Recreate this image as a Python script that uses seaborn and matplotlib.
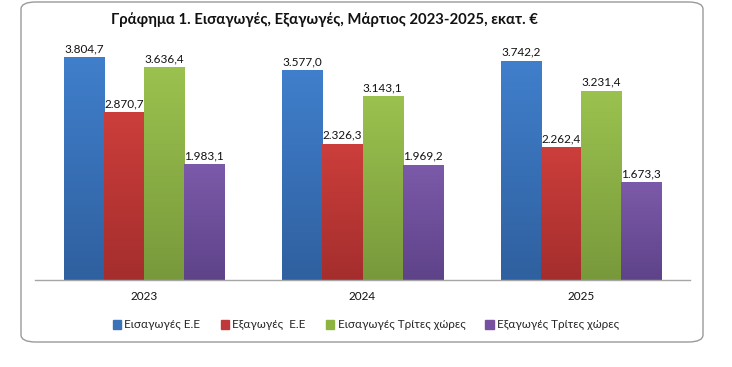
import matplotlib
matplotlib.use("Agg")
import matplotlib.pyplot as plt
import seaborn as sns
import pandas as pd
import numpy as np
from matplotlib.patches import FancyBboxPatch
from matplotlib.colors import LinearSegmentedColormap

years = ["2023", "2024", "2025"]
series = ["Εισαγωγές Ε.Ε", "Εξαγωγές  Ε.Ε", "Εισαγωγές Τρίτες χώρες", "Εξαγωγές Τρίτες χώρες"]
imports_eu = [3804.7, 3577.0, 3742.2]
exports_eu = [2870.7, 2326.3, 2262.4]
imports_third = [3636.4, 3143.1, 3231.4]
exports_third = [1983.1, 1969.2, 1673.3]
title = "Γράφημα 1. Εισαγωγές, Εξαγωγές, Μάρτιος 2023-2025, εκατ. €"

top_colors = ["#407FCC", "#CC3E3B", "#9BC24F", "#7C5AAA"]
bot_colors = ["#2F609F", "#A42E2D", "#78993B", "#5E4389"]
mid_colors = ["#3A72B8", "#C0393A", "#8DB440", "#7850A0"]

rows = []
for s, vals in zip(series, [imports_eu, exports_eu, imports_third, exports_third]):
    for y, v in zip(years, vals):
        rows.append({"year": y, "series": s, "value": v})
df = pd.DataFrame(rows)

sns.set_theme(style="white")
plt.rcParams['font.family'] = ['Lato', 'DejaVu Sans']

fig = plt.figure(figsize=(7.32, 3.67), dpi=100)
W, H = 732, 367
ax = fig.add_axes([35 / W, 1 - 280 / H, (690 - 35) / W, (280 - 45.5) / H])

sns.barplot(data=df, x="year", y="value", hue="series", hue_order=series,
            palette=mid_colors, ax=ax, width=0.733, saturation=1,
            edgecolor="none", linewidth=0, legend=False)
ax.set_ylim(0, 4000)
ax.set_xlim(-0.5, 2.5)

def fmt(v):
    s = f"{v:,.1f}"
    return s.replace(",", "X").replace(".", ",").replace("X", ".")

for i, cont in enumerate(ax.containers):
    cmap = LinearSegmentedColormap.from_list("g", [bot_colors[i], top_colors[i]])
    grad = np.linspace(0, 1, 256).reshape(-1, 1)
    for p in cont.patches:
        x0, w, h = p.get_x(), p.get_width(), p.get_height()
        im = ax.imshow(grad, cmap=cmap, origin="lower", aspect="auto",
                       extent=(x0, x0 + w, 0, h), zorder=p.get_zorder() + 0.1)
        im.set_clip_path(p)
    ax.bar_label(cont, labels=[fmt(v) for v in cont.datavalues], padding=2,
                 fontsize=8.5, color="#111111")
ax.set_xlim(-0.5, 2.5)
ax.set_ylim(0, 4000)

for s in ["top", "right", "left"]:
    ax.spines[s].set_visible(False)
ax.spines["bottom"].set_color("#A6A6A6")
ax.spines["bottom"].set_linewidth(1.0)
ax.set_yticks([])
ax.set_xlabel("")
ax.set_ylabel("")
ax.tick_params(axis="x", length=0, pad=8, labelsize=8.5, labelcolor="#111111")

handles = [plt.Rectangle((0, 0), 1, 1, color=c) for c in mid_colors]
fig.legend(handles, series, loc="center", bbox_to_anchor=(366 / W, 1 - 325 / H),
           ncol=4, frameon=False, fontsize=8.5, handlelength=0.7, handleheight=0.7,
           handletextpad=0.3, columnspacing=1.7)

fig.text(324 / W, 1 - 20 / H, title, ha="center", va="center",
         fontsize=10.7, fontweight="bold", color="#111111")

border = FancyBboxPatch((21 / W, 1 - 342 / H), (703 - 21) / W, (342 - 2) / H,
                        boxstyle="round,pad=0,rounding_size=0.02",
                        transform=fig.transFigure, fill=False,
                        edgecolor="#9A9A9A", linewidth=1.0)
fig.add_artist(border)

fig.savefig("out.png", dpi=100)
